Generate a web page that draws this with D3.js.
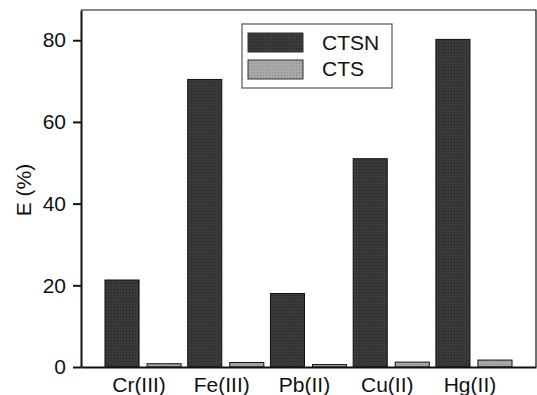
<!DOCTYPE html>
<html>
<head>
<meta charset="utf-8">
<script src="https://cdn.jsdelivr.net/npm/d3@7"></script>
<style>
  body { margin: 0; background: #fff; }
  text { font-family: "Liberation Sans", Arial, sans-serif; }
</style>
</head>
<body>
<svg width="537" height="395"></svg>
<script>
var ions = ["Cr(III)", "Fe(III)", "Pb(II)", "Cu(II)", "Hg(II)"];
var seriesNames = ["CTSN", "CTS"];
var ctsn = [21.3, 70.4, 18.0, 51.0, 80.2];
var cts = [0.8, 1.1, 0.6, 1.2, 1.7];
var yTicks = [0, 20, 40, 60, 80];

var svg = d3.select("svg"),
    margin = {top: 10, right: 1, bottom: 28, left: 81},
    width = +svg.attr("width") - margin.left - margin.right,
    height = +svg.attr("height") - margin.top - margin.bottom,
    g = svg.append("g").attr("transform", "translate(" + margin.left + "," + margin.top + ")");

// dotted fills like the scanned original
var defs = svg.append("defs");
function dots(id, bg, dot) {
    var p = defs.append("pattern").attr("id", id)
        .attr("width", 3).attr("height", 3)
        .attr("patternUnits", "userSpaceOnUse");
    p.append("rect").attr("width", 3).attr("height", 3).attr("fill", bg);
    p.append("rect").attr("width", 1).attr("height", 1).attr("fill", dot);
}
dots("darkDots", "#3a3a3a", "#222");
dots("lightDots", "#a8a8a8", "#8a8a8a");
var fills = {CTSN: "url(#darkDots)", CTS: "url(#lightDots)"};

var data = ions.map(function (d, i) {
    return {ion: d, CTSN: ctsn[i], CTS: cts[i]};
});

var x0 = d3.scaleBand()
    .domain(ions)
    .range([0, width])
    .paddingInner(0.08)
    .paddingOuter(0.29);

var x1 = d3.scaleBand()
    .domain(seriesNames)
    .range([0, x0.bandwidth()])
    .paddingInner(0.19);

var y = d3.scaleLinear()
    .domain([0, 87.4])
    .range([height, 0]);

// bars
g.selectAll("g.group")
    .data(data)
    .enter().append("g")
    .attr("class", "group")
    .attr("transform", function (d) { return "translate(" + x0(d.ion) + ",0)"; })
    .selectAll("rect")
    .data(function (d) { return seriesNames.map(function (k) { return {key: k, value: d[k]}; }); })
    .enter().append("rect")
    .attr("x", function (d) { return x1(d.key); })
    .attr("y", function (d) { return y(d.value); })
    .attr("width", x1.bandwidth())
    .attr("height", function (d) { return height - y(d.value); })
    .attr("fill", function (d) { return fills[d.key]; })
    .attr("stroke", "#111")
    .attr("stroke-width", 1);

// frame (top + right)
g.append("path")
    .attr("d", "M0,0H" + width + "V" + height)
    .attr("fill", "none")
    .attr("stroke", "#111")
    .attr("stroke-width", 1.2);

// x axis
var xAxis = g.append("g")
    .attr("transform", "translate(0," + height + ")")
    .call(d3.axisBottom(x0).tickSize(0).tickSizeOuter(0).tickPadding(10));
xAxis.select(".domain").attr("stroke", "#111").attr("stroke-width", 2);
xAxis.selectAll("text").attr("font-size", 21).attr("fill", "#111")
    .attr("dx", -4)
    .attr("font-family", "Liberation Sans, Arial, sans-serif");

// y axis
var yAxis = g.append("g")
    .call(d3.axisLeft(y).tickValues(yTicks).tickSize(8).tickSizeOuter(0).tickPadding(7));
yAxis.select(".domain").attr("stroke", "#111").attr("stroke-width", 2);
yAxis.selectAll(".tick line").attr("stroke", "#111").attr("stroke-width", 2);
yAxis.selectAll("text").attr("font-size", 21).attr("fill", "#111")
    .attr("font-family", "Liberation Sans, Arial, sans-serif");

svg.append("text")
    .attr("transform", "translate(31,190) rotate(-90)")
    .attr("text-anchor", "middle")
    .attr("font-size", 21)
    .attr("fill", "#111")
    .text("E (%)");

// legend
var legend = svg.append("g").attr("transform", "translate(242,24)");
legend.append("rect")
    .attr("width", 150).attr("height", 64)
    .attr("fill", "#fff").attr("stroke", "#555").attr("stroke-width", 1.2);
seriesNames.forEach(function (k, i) {
    legend.append("rect")
        .attr("x", 6).attr("y", 9 + i * 27)
        .attr("width", 55).attr("height", 19)
        .attr("fill", fills[k]).attr("stroke", "#333");
    legend.append("text")
        .attr("x", 80).attr("y", 26 + i * 26)
        .attr("font-size", 21).attr("fill", "#111")
        .text(k);
});
</script>
</body>
</html>
